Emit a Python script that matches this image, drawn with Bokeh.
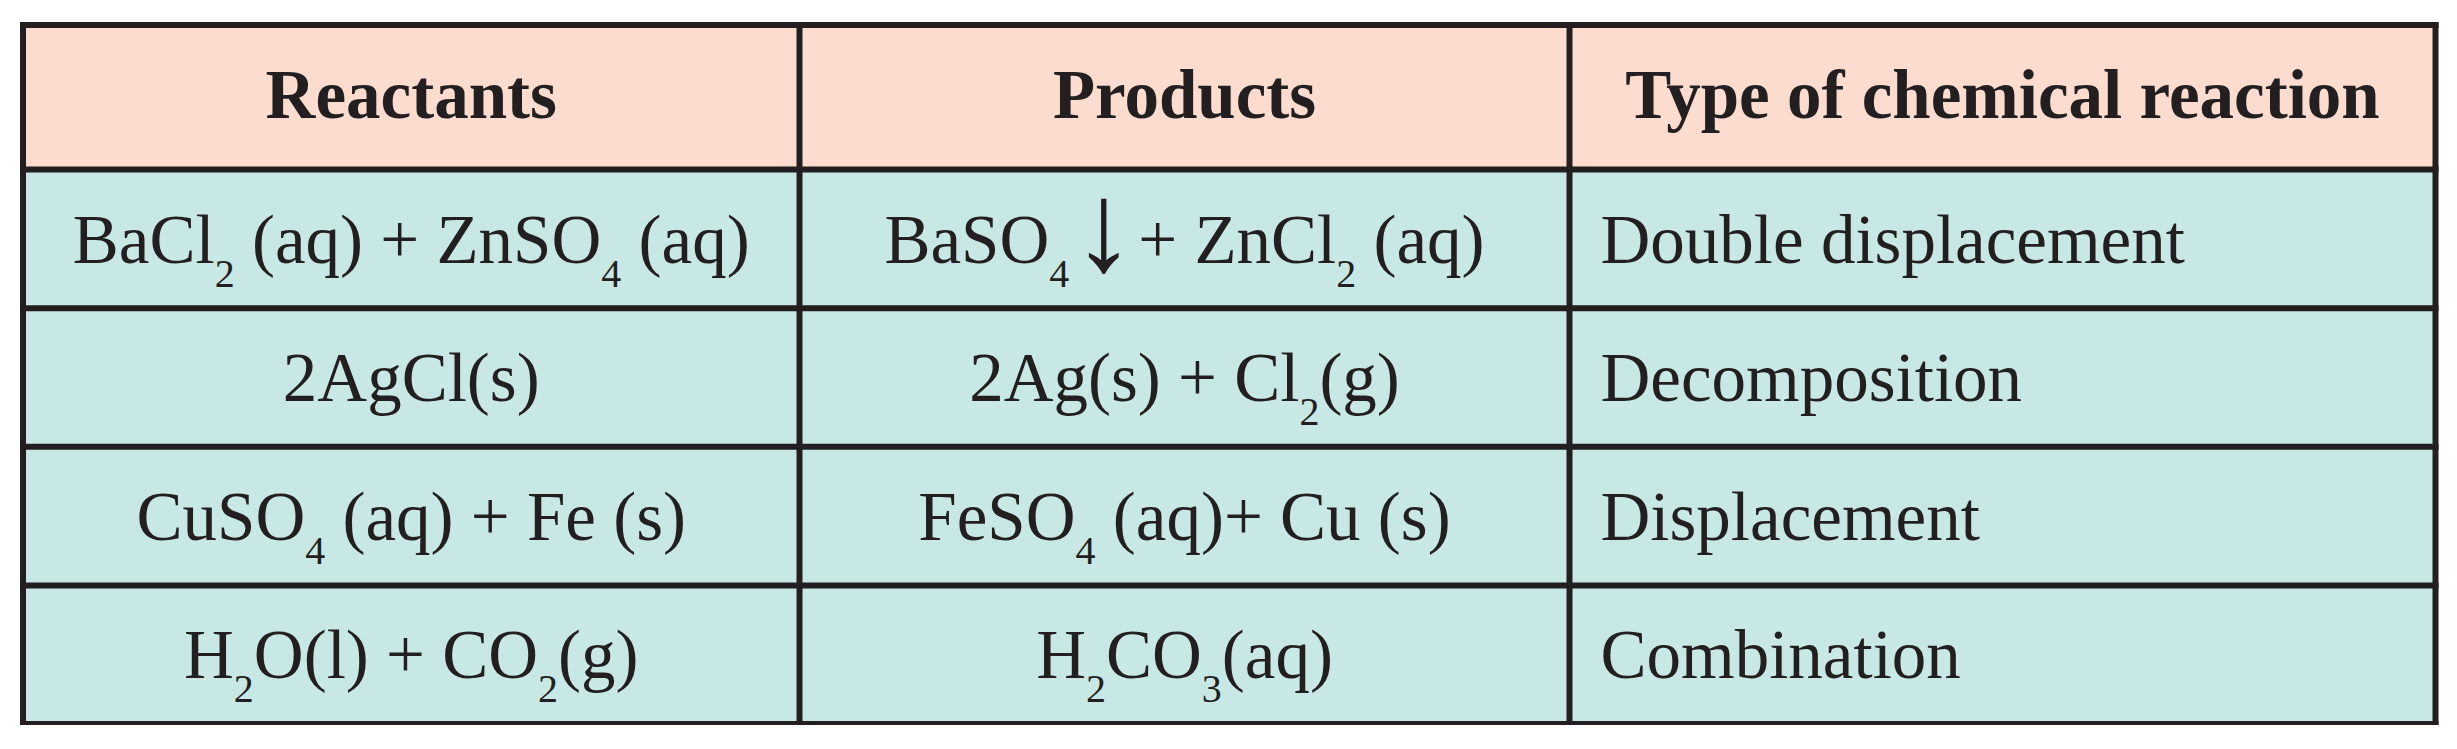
from bokeh.plotting import figure
from bokeh.models import Range1d, ColumnDataSource
from bokeh.core.properties import value
from bokeh.embed import file_html
from bokeh.resources import INLINE

# ---- table content ("_x" marks a subscript character) ----
headers = ["Reactants", "Products", "Type of chemical reaction"]
reactants = ["BaCl_2 (aq) + ZnSO_4 (aq)", "2AgCl(s)", "CuSO_4 (aq) + Fe (s)", "H_2O(l) + CO_2(g)"]
products = ["BaSO_4 ↓ + ZnCl_2 (aq)", "2Ag(s) + Cl_2(g)", "FeSO_4 (aq)+ Cu (s)", "H_2CO_3(aq)"]
reaction_types = ["Double displacement", "Decomposition", "Displacement", "Combination"]

# ---- style / layout ----
FONT = "Liberation Serif"
MAIN_SIZE = 69
SUB_SIZE = 40
ARROW_SIZE = 127
SUB_DY = 23
ARROW_DY = 9
BODY_DY = 27
K = 0.38          # empirical baseline correction (fraction of font size)
INK = "#231F20"
HEAD_FILL = "#FBDCCF"
BODY_FILL = "#C8E8E5"
LINE_W = 6

W, H = 2441, 725
col_edges = [22.5, 799, 1569, 2435]
header_top, header_bot, table_bot = 24.5, 169, 723.5
n_rows = len(reactants)
row_h = (table_bot - header_bot) / n_rows
row_edges = [header_bot + i * row_h for i in range(n_rows + 1)]

# Times / Liberation Serif advance widths (per 1000 em, at the main size)
ADV = {' ': 250, '(': 333, ')': 333, '+': 564, 'A': 722, 'B': 667, 'C': 667,
       'F': 556, 'H': 722, 'O': 722, 'S': 556, 'Z': 611, 'a': 444, 'c': 444,
       'e': 444, 'g': 500, 'l': 278, 'n': 500, 'q': 500, 's': 389, 'u': 500,
       '↓': 500}
for d in "0123456789":
    ADV[d] = 500

SIZES = {"main": MAIN_SIZE, "sub": SUB_SIZE, "arrow": ARROW_SIZE}
ADV_SIZES = {"main": MAIN_SIZE, "sub": SUB_SIZE, "arrow": MAIN_SIZE}
DYS = {"main": 0, "sub": SUB_DY, "arrow": ARROW_DY}


def adv(txt, size):
    return sum(ADV.get(ch, 500) for ch in txt) * size / 1000.0


def parse(s):
    segs, cur, i = [], "", 0
    while i < len(s):
        if s[i] == "_" and i + 1 < len(s):
            if cur:
                segs.append((cur, "main"))
                cur = ""
            segs.append((s[i + 1], "sub"))
            i += 2
        elif s[i] == "↓":
            if cur:
                segs.append((cur, "main"))
                cur = ""
            segs.append((s[i], "arrow"))
            i += 1
        else:
            cur += s[i]
            i += 1
    if cur:
        segs.append((cur, "main"))
    return segs


pieces = {k: dict(x=[], y=[], t=[]) for k in SIZES}


def place_formula(s, cx, baseline):
    segs = parse(s)
    total = sum(adv(t, ADV_SIZES[kind]) for t, kind in segs)
    x = cx - total / 2.0
    for t, kind in segs:
        asize = ADV_SIZES[kind]
        stripped = t.lstrip(" ")
        x += adv(t[:len(t) - len(stripped)], asize)
        w = adv(stripped, asize)
        tgt = pieces[kind]
        tgt["x"].append(x + w / 2.0 if kind == "arrow" else x)
        tgt["y"].append(baseline + DYS[kind] - K * SIZES[kind])
        tgt["t"].append(stripped)
        x += w


p = figure(width=W, height=H, x_range=Range1d(0, W), y_range=Range1d(H, 0),
           output_backend="svg", toolbar_location=None, min_border=0,
           x_axis_location=None, y_axis_location=None)
p.grid.visible = False
p.outline_line_color = None
p.background_fill_color = "white"
p.border_fill_color = "white"

# cell fills
p.quad(left=[col_edges[0]], right=[col_edges[-1]], top=[header_top], bottom=[header_bot],
       fill_color=HEAD_FILL, line_color=None)
p.quad(left=[col_edges[0]], right=[col_edges[-1]], top=[header_bot], bottom=[table_bot],
       fill_color=BODY_FILL, line_color=None)

# grid lines
x0s, y0s, x1s, y1s = [], [], [], []
for xe in col_edges:
    x0s.append(xe); y0s.append(header_top); x1s.append(xe); y1s.append(table_bot)
for ye in [header_top] + row_edges:
    x0s.append(col_edges[0]); y0s.append(ye); x1s.append(col_edges[-1]); y1s.append(ye)
p.segment(x0=x0s, y0=y0s, x1=x1s, y1=y1s, line_color=INK, line_width=LINE_W, line_cap="square")

# header
hc = [(col_edges[i] + col_edges[i + 1]) / 2 for i in range(3)]
head_base = (header_top + header_bot) / 2 + 23.5 - K * MAIN_SIZE
p.text(x=hc, y=[head_base] * 3, text=headers, text_font=value(FONT), text_font_style="bold",
       text_font_size=f"{MAIN_SIZE}px", text_align="center", text_baseline="alphabetic",
       text_color=INK)

# body
for i in range(n_rows):
    base = (row_edges[i] + row_edges[i + 1]) / 2 + BODY_DY
    place_formula(reactants[i], hc[0], base)
    place_formula(products[i], hc[1], base)

for kind, size in SIZES.items():
    p.text(x="x", y="y", text="t", source=ColumnDataSource(pieces[kind]), text_font=value(FONT),
           text_font_size=f"{size}px", text_font_style="bold" if kind == "arrow" else "normal",
           text_align="center" if kind == "arrow" else "left", text_baseline="alphabetic",
           text_color=INK)

type_x = col_edges[2] + 31
type_base = [(row_edges[i] + row_edges[i + 1]) / 2 + BODY_DY - K * MAIN_SIZE for i in range(n_rows)]
p.text(x=[type_x] * n_rows, y=type_base, text=reaction_types, text_font=value(FONT),
       text_font_size=f"{MAIN_SIZE}px", text_align="left", text_baseline="alphabetic",
       text_color=INK)

open("out.html", "w").write(file_html(p, INLINE))
